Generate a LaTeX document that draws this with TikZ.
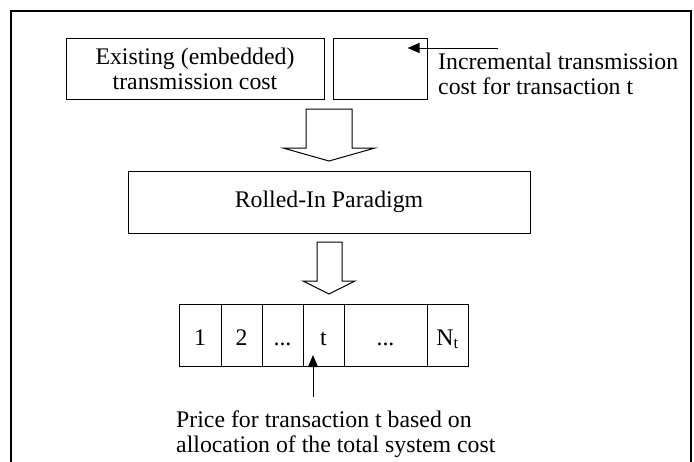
\documentclass[tikz,border=0pt]{standalone}
\usepackage{fontspec}
\setmainfont{Liberation Serif}
\usetikzlibrary{positioning,arrows.meta}

\begin{document}
\begin{tikzpicture}[x=1pt,y=-1pt,
  every node/.style={font=\fontsize{23.8}{25}\selectfont},
  box/.style={draw,line width=1pt,inner sep=0pt,align=center},
  cell/.style={draw,line width=1pt,outer sep=0pt,inner sep=0pt,minimum height=62pt,
    text height=20pt,text depth=0pt},
  hollow/.style={draw,line width=1pt,fill=white,line join=miter},
  pointer/.style={line width=1pt,-{Triangle[length=12pt,width=10pt]}}]
  \clip (0,0) rectangle (694,461);
  % frame
  \draw[line width=1.5pt] (11,11) rectangle (691,480);
  % cost boxes
  \node[box,minimum width=258pt,minimum height=61pt] (exist) at (195,68.5) {Existing (embedded)\\transmission cost};
  \node[box,minimum width=94pt,minimum height=61pt] (incr) at (380,68.5) {};
  \node[anchor=north west,align=left,inner sep=0pt] (incrtext) at (438,52.7) {Incremental transmission\\cost for transaction t};
  \coordinate (incrsrc) at (498,48);
  \draw[pointer] (incrsrc) -- ([xshift=-20pt]incrsrc -| incr.east);
  % first hollow arrow
  \draw[hollow] (306,109) -- (352,109) -- (352,148) -- (375,148) -- (329,161)
                -- (283,148) -- (306,148) -- cycle;
  % paradigm
  \node[box,minimum width=402pt,minimum height=62pt] (rolled) at (329,202) {Rolled-In Paradigm};
  % second hollow arrow
  \draw[hollow] (317,242) -- (342,242) -- (342,281) -- (355,281) -- (329,294)
                -- (303,281) -- (317,281) -- cycle;
  % transaction cells
  \node[cell,minimum width=42pt] (c1) at (200,335) {1};
  \node[cell,minimum width=41pt,right=0pt of c1] (c2) {2};
  \node[cell,minimum width=41pt,right=0pt of c2] (c3) {...};
  \node[cell,minimum width=41pt,right=0pt of c3] (ct) {t};
  \node[cell,minimum width=83pt,right=0pt of ct] (c5) {...};
  \node[cell,minimum width=41pt,right=0pt of c5] (cn) {N\textsubscript{t}};
  % price note
  \node[anchor=north west,align=left,inner sep=0pt] (price) at (176,410.7) {Price for transaction t based on\\allocation of the total system cost};
  \coordinate (pricesrc) at (313,397);
  \draw[pointer] (pricesrc) -- ([yshift=11pt]pricesrc |- ct.south);
\end{tikzpicture}
\end{document}
